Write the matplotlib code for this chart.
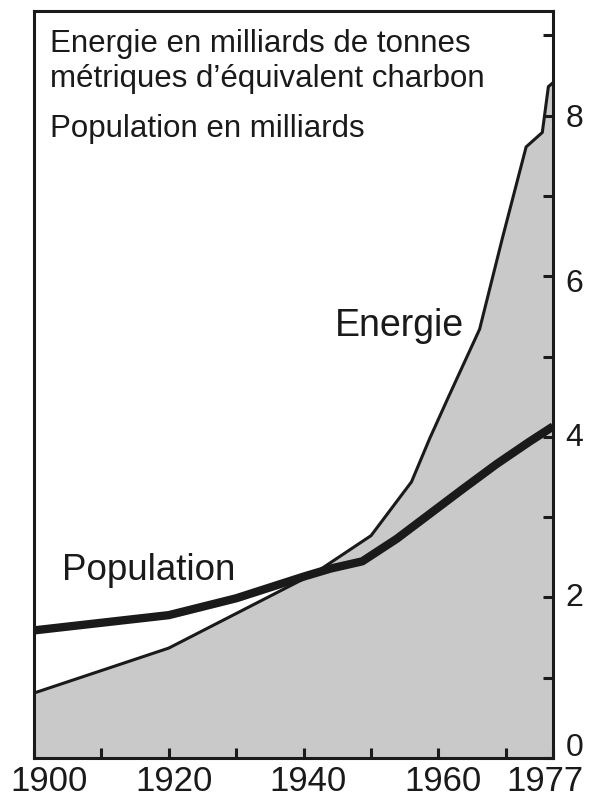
import matplotlib
matplotlib.use('Agg')
import matplotlib.pyplot as plt
from matplotlib.ticker import FixedLocator, FixedFormatter
from matplotlib.transforms import ScaledTranslation

# Energy (billions of tonnes coal equivalent) and population (billions)
energy_years = [1900, 1920, 1941.6, 1950, 1956, 1958.7, 1961.5, 1966.1,
                1969.5, 1973, 1975.4, 1976.3, 1977]
energy_vals = [0.81, 1.37, 2.30, 2.77, 3.44, 3.98, 4.50, 5.34,
               6.48, 7.61, 7.79, 8.36, 8.41]
pop_years = [1900, 1920, 1930, 1940, 1944, 1948.7, 1953.8, 1958.7,
             1963.6, 1968.6, 1973.5, 1977]
pop_vals = [1.59, 1.78, 1.99, 2.26, 2.36, 2.45, 2.73, 3.04,
            3.35, 3.66, 3.94, 4.13]

x_ticks = [1900, 1910, 1920, 1930, 1940, 1950, 1960, 1970, 1977]
x_labels = ['1900', '', '1920', '', '1940', '', '1960', '', '1977']
y_ticks = [0, 1, 2, 3, 4, 5, 6, 7, 8, 9]
y_labels = ['0', '', '2', '', '4', '', '6', '', '8', '']

FONT = ['Liberation Sans Narrow', 'Liberation Sans', 'DejaVu Sans']
plt.rcParams['font.family'] = FONT
INK = '#1a1a1a'

fig = plt.figure(figsize=(5.96, 7.98), dpi=100)
ax = fig.add_axes([0.057, 0.050, 0.871, 0.936])

ax.fill_between(energy_years, 0, energy_vals, color='#c9c9c9', lw=0)
ax.plot(energy_years, energy_vals, color=INK, lw=2.2, solid_joinstyle='miter')
ax.plot(pop_years, pop_vals, color=INK, lw=6.0, solid_capstyle='butt')

ax.set_xlim(1900, 1977)
ax.set_ylim(0, 9.3)

for s in ax.spines.values():
    s.set_linewidth(2.2)
    s.set_color(INK)

ax.yaxis.tick_right()
ax.yaxis.set_major_locator(FixedLocator(y_ticks))
ax.yaxis.set_major_formatter(FixedFormatter(y_labels))
ax.xaxis.set_major_locator(FixedLocator(x_ticks))
ax.xaxis.set_major_formatter(FixedFormatter(x_labels))
ax.tick_params(axis='y', direction='in', length=7, width=2.2, color=INK,
               labelsize=23, pad=9, labelcolor=INK)
ax.tick_params(axis='x', direction='in', length=7, width=2.2, color=INK,
               labelsize=25, pad=5, labelcolor=INK)

# nudge tick labels the way the printed figure has them
fig.canvas.draw()
x_shift = [11, 0, 4, 0, 3, 0, 3, 0, -6]
for lbl, dx in zip(ax.get_xticklabels(), x_shift):
    lbl.set_transform(lbl.get_transform()
                      + ScaledTranslation(dx / 72, 0, fig.dpi_scale_trans))
y_shift = [10, 0, 2, 0, 2, 0, -3, 0, 0, 0]
for lbl, dy in zip(ax.get_yticklabels(), y_shift):
    lbl.set_transform(lbl.get_transform()
                      + ScaledTranslation(0, dy / 72, fig.dpi_scale_trans))

ax.text(0.03, 0.976, 'Energie en milliards de tonnes', transform=ax.transAxes,
        fontsize=22.5, va='top', ha='left', color=INK)
ax.text(0.03, 0.929, 'métriques d’équivalent charbon', transform=ax.transAxes,
        fontsize=22.5, va='top', ha='left', color=INK)
ax.text(0.03, 0.862, 'Population en milliards', transform=ax.transAxes,
        fontsize=22.5, va='top', ha='left', color=INK)
ax.text(1944.6, 5.38, 'Energie', fontsize=27, ha='left', va='center',
        color=INK)
ax.text(1904.1, 2.33, 'Population', fontsize=26.5, ha='left', va='center',
        color=INK)

fig.savefig('out.png', dpi=100)
